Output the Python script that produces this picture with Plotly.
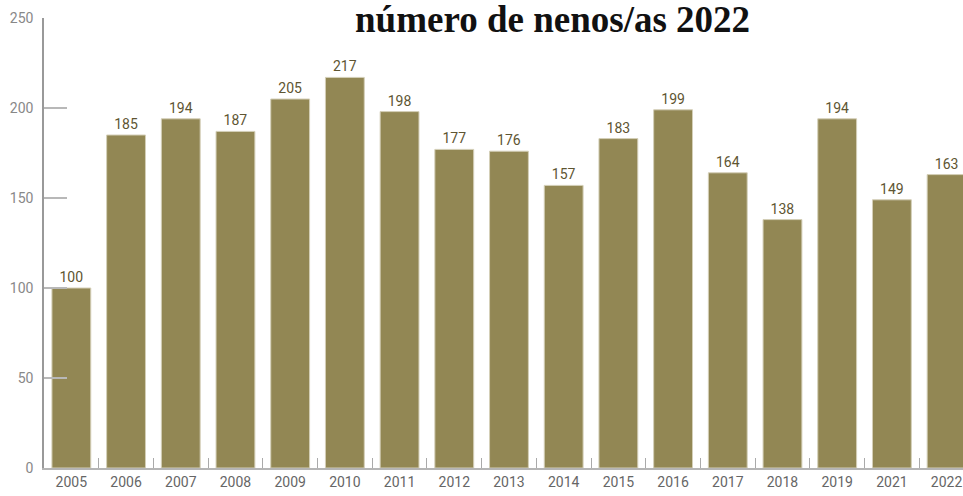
import plotly.graph_objects as go

years = ["2005", "2006", "2007", "2008", "2009", "2010", "2011", "2012", "2013",
         "2014", "2015", "2016", "2017", "2018", "2019", "2021", "2022"]
values = [100, 185, 194, 187, 205, 217, 198, 177, 176, 157, 183, 199, 164, 138, 194, 149, 163]
title_text = "número de nenos/as 2022"

bar_color = "#928754"
label_color = "#5e5532"

fig = go.Figure(go.Bar(
    x=years, y=values,
    marker=dict(color=bar_color, line=dict(color="#d4cfb8", width=1)),
    text=[str(v) for v in values],
    textposition="outside",
    textfont=dict(family="Roboto", size=14, color=label_color),
    cliponaxis=False,
))

fig.update_layout(
    width=963, height=496,
    margin=dict(l=44, r=0, t=18, b=28),
    paper_bgcolor="white", plot_bgcolor="white",
    bargap=0.29,
    showlegend=False,
    font=dict(family="Roboto"),
    annotations=[dict(
        text="<b>" + title_text + "</b>", xref="paper", yref="paper",
        x=(552 - 44) / 919, y=1, yshift=-1, xanchor="center", yanchor="middle",
        showarrow=False,
        font=dict(family="Liberation Serif", size=37, color="#111111"),
    )],
)

fig.update_xaxes(
    type="category", range=[-0.5, 16.3],
    showline=True, linecolor="#b5b5b5", linewidth=2,
    ticks="inside", tickson="boundaries", ticklen=10, tickcolor="#aaaaaa", tickwidth=1,
    tickfont=dict(family="Roboto", size=14, color="#666666"),
    showgrid=False, zeroline=False,
)
fig.update_yaxes(
    range=[0, 250], tickvals=[0, 50, 100, 150, 200, 250],
    showline=True, linecolor="#999999", linewidth=1.5,
    ticks="inside", ticklen=23, tickcolor="#b8b8b8", tickwidth=2,
    tickfont=dict(family="Roboto", size=14, color="#888888"),
    ticklabelstandoff=6,
    showgrid=False, zeroline=False,
)

fig.write_html("out.html", config={"displayModeBar": False},
               post_script="document.body.style.margin='0';document.body.style.overflow='hidden';")
